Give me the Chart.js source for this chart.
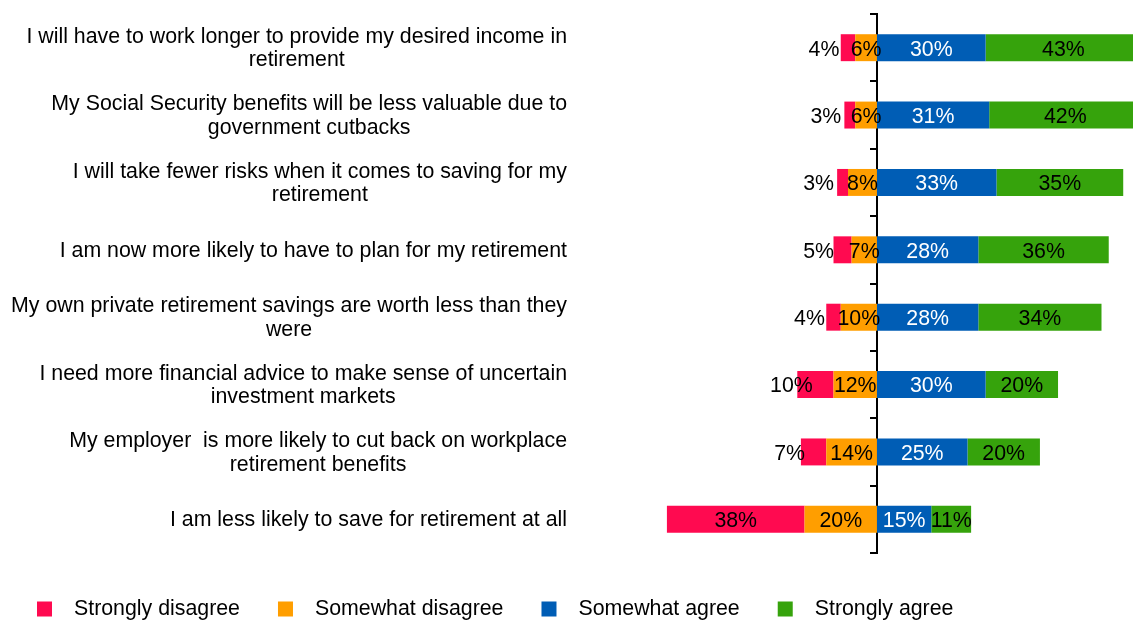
<!DOCTYPE html>
<html><head><meta charset="utf-8">
<script src="https://cdn.jsdelivr.net/npm/chart.js@4"></script>
<style>html,body{margin:0;padding:0;background:#fff;overflow:hidden}</style>
</head><body>
<canvas id="c" width="1133" height="621"></canvas>
<script>
const categories = [
  ["I will have to work longer to provide my desired income in", "retirement"],
  ["My Social Security benefits will be less valuable due to", "government cutbacks"],
  ["I will take fewer risks when it comes to saving for my", "retirement"],
  ["I am now more likely to have to plan for my retirement"],
  ["My own private retirement savings are worth less than they", "were"],
  ["I need more financial advice to make sense of uncertain", "investment markets"],
  ["My employer  is more likely to cut back on workplace", "retirement benefits"],
  ["I am less likely to save for retirement at all"]
];
const seriesNames = ["Strongly disagree", "Somewhat disagree", "Somewhat agree", "Strongly agree"];
const stronglyDisagree = [4, 3, 3, 5, 4, 10, 7, 38];
const somewhatDisagree = [6, 6, 8, 7, 10, 12, 14, 20];
const somewhatAgree    = [30, 31, 33, 28, 28, 30, 25, 15];
const stronglyAgree    = [43, 42, 35, 36, 34, 20, 20, 11];

const COLORS = { sd: '#FF0A50', md: '#FF9E00', ma: '#005DB5', sa: '#36A30C' };
const FONT = '21.33px "Liberation Sans", Arial, sans-serif';

const valueLabels = {
  id: 'valueLabels',
  afterDatasetsDraw(chart) {
    const ctx = chart.ctx;
    ctx.save();
    ctx.font = FONT;
    ctx.textAlign = 'center';
    ctx.textBaseline = 'middle';
    chart.data.datasets.forEach((ds, di) => {
      const meta = chart.getDatasetMeta(di);
      meta.data.forEach((bar, i) => {
        const v = Math.abs(ds.data[i]);
        let x = (bar.x + bar.base) / 2;
        if (ds.key === 'sd' && v < 15) x -= 24;
        ctx.fillStyle = ds.labelColor;
        ctx.fillText(v + '%', x, bar.y + 2);
      });
    });
    ctx.restore();
  }
};

const categoryLabels = {
  id: 'categoryLabels',
  afterDraw(chart) {
    const ys = chart.scales.y;
    const ctx = chart.ctx;
    ctx.save();
    ctx.font = FONT;
    ctx.fillStyle = '#000';
    ctx.textAlign = 'center';
    ctx.textBaseline = 'middle';
    const right = chart.chartArea.left - 13;
    const lh = 23.5;
    chart.data.labels.forEach((lines, i) => {
      const cy = ys.getPixelForValue(i);
      const w = Math.max(...lines.map(l => ctx.measureText(l).width));
      const cx = right - w / 2;
      lines.forEach((l, j) => ctx.fillText(l, cx, cy + (j - (lines.length - 1) / 2) * lh + 1));
    });
    ctx.restore();
  }
};

const bottomLegend = {
  id: 'bottomLegend',
  afterDraw(chart) {
    const ctx = chart.ctx;
    ctx.save();
    ctx.font = FONT;
    ctx.textBaseline = 'middle';
    ctx.textAlign = 'left';
    const cols = [COLORS.sd, COLORS.md, COLORS.ma, COLORS.sa];
    let x = 37;
    const cy = 609;
    seriesNames.forEach((name, i) => {
      ctx.fillStyle = cols[i];
      ctx.fillRect(x, cy - 7.5, 15, 15);
      ctx.fillStyle = '#000';
      ctx.fillText(name, x + 37, cy);
      x += 37 + ctx.measureText(name).width + 38;
    });
    ctx.restore();
  }
};

new Chart(document.getElementById('c'), {
  type: 'bar',
  data: {
    labels: categories,
    datasets: [
      { key: 'md', label: seriesNames[1], data: somewhatDisagree.map(v => -v), backgroundColor: COLORS.md, labelColor: '#000' },
      { key: 'sd', label: seriesNames[0], data: stronglyDisagree.map(v => -v), backgroundColor: COLORS.sd, labelColor: '#000' },
      { key: 'ma', label: seriesNames[2], data: somewhatAgree, backgroundColor: COLORS.ma, labelColor: '#fff' },
      { key: 'sa', label: seriesNames[3], data: stronglyAgree, backgroundColor: COLORS.sa, labelColor: '#000' }
    ]
  },
  options: {
    indexAxis: 'y',
    responsive: false,
    animation: false,
    devicePixelRatio: 1,
    layout: { padding: { left: 580, right: 0, top: 14, bottom: 68 } },
    datasets: { bar: { categoryPercentage: 1, barPercentage: 0.4 } },
    plugins: { legend: { display: false }, tooltip: { enabled: false } },
    scales: {
      x: { type: 'linear', stacked: true, min: -82, max: 70.7, display: false },
      y: {
        type: 'category', stacked: true, position: { x: 0 }, offset: true,
        ticks: { display: false },
        grid: { display: true, offset: true, drawOnChartArea: false, drawTicks: true, tickLength: 6, lineWidth: 2, color: '#000' },
        border: { display: true, color: '#000', width: 2 }
      }
    }
  },
  plugins: [valueLabels, categoryLabels, bottomLegend]
});
</script>
</body></html>
